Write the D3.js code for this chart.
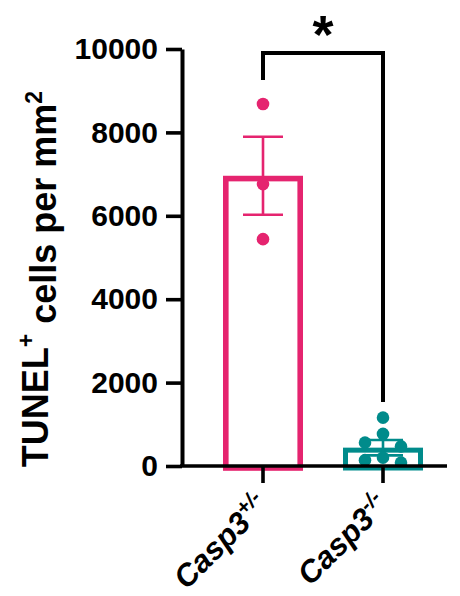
<!DOCTYPE html>
<html><head><meta charset="utf-8">
<script src="https://cdn.jsdelivr.net/npm/d3@7"></script>
<style>
html,body{margin:0;padding:0;background:#fff;}
svg{display:block;}
text{font-family:"Liberation Sans",Arial,sans-serif;font-weight:bold;fill:#000;}
</style></head><body>
<svg id="chart" width="460" height="596"></svg>
<script>
// ---- data ----
const groups = ["Casp3+/-", "Casp3-/-"];
const groupBase = ["Casp3", "Casp3"];
const groupSup = ["+/-", "-/-"];
const groupMeans = [6960, 440];
const groupSem = [935, 185];
const hetPoints = [8680, 6760, 5440];
const koPoints = [1160, 770, 560, 470, 200, 140, 80];
const yTicks = [0, 2000, 4000, 6000, 8000, 10000];
const sigLabel = "*";

const colors = ["#e5246f", "#008b8b"];
const pointSets = [hetPoints, koPoints];

const svg = d3.select("#chart");
const yTop = 49, yBot = 466, axisX = 182;

const y = d3.scaleLinear().domain([0, 10000]).range([yBot, yTop]);
const x = d3.scaleBand().domain(groups).range([203, 443]).padding(0);
const cx = g => x(g) + x.bandwidth() / 2;
const barW = x.bandwidth() * 2 / 3;

// bars (stroke drawn inside)
const strokeW = [5.6, 5];
groups.forEach((g, i) => {
  const sw = strokeW[i];
  svg.append("rect")
    .attr("x", cx(g) - barW / 2 + sw / 2)
    .attr("y", y(groupMeans[i]) + sw / 2)
    .attr("width", barW - sw)
    .attr("height", y(0) - y(groupMeans[i]) - sw / 2 + 2)
    .attr("fill", "none")
    .attr("stroke", colors[i])
    .attr("stroke-width", sw);
});

// error bars
groups.forEach((g, i) => {
  const c = cx(g), hi = y(groupMeans[i] + groupSem[i]), lo = y(groupMeans[i] - groupSem[i]);
  const eg = svg.append("g").attr("stroke", colors[i]).attr("stroke-width", 2.6);
  eg.append("line").attr("x1", c).attr("x2", c).attr("y1", hi).attr("y2", lo);
  eg.append("line").attr("x1", c - 20).attr("x2", c + 20).attr("y1", hi).attr("y2", hi);
  eg.append("line").attr("x1", c - 20).attr("x2", c + 20).attr("y1", lo).attr("y2", lo);
});

// points with simple beeswarm placement
const r = 6.3;
function swarm(vals) {
  const placed = [];
  const step = 18;
  const sorted = vals.map(v => v).sort((a, b) => b - a);
  sorted.forEach(v => {
    const py = y(v);
    for (let k = 0; k < 20; k++) {
      const off = k === 0 ? 0 : (k % 2 ? -1 : 1) * Math.ceil(k / 2) * step;
      if (placed.every(p => Math.hypot(p.dx - off, p.py - py) >= 2 * r + 1)) {
        placed.push({v, py, dx: off});
        break;
      }
    }
  });
  return placed;
}
groups.forEach((g, i) => {
  svg.append("g").selectAll("circle")
    .data(swarm(pointSets[i]))
    .join("circle")
    .attr("cx", d => cx(g) + d.dx)
    .attr("cy", d => y(d.v))
    .attr("r", r)
    .attr("fill", colors[i]);
});

// y axis
const yAxis = svg.append("g").attr("transform", `translate(${axisX},0)`)
  .call(d3.axisLeft(y).tickValues(yTicks).tickSize(16).tickPadding(8).tickSizeOuter(0).tickFormat(d3.format("d")));
yAxis.select(".domain").attr("stroke", "#000").attr("stroke-width", 4);
yAxis.selectAll(".tick line").attr("stroke", "#000").attr("stroke-width", 3.6);
yAxis.selectAll(".tick text").style("font-size", "30px").attr("font-family", null).attr("x", -24);

// x axis
const xAxis = svg.append("g").attr("transform", `translate(0,${yBot})`)
  .call(d3.axisBottom(x).tickSize(17).tickSizeOuter(0).tickFormat(""));
xAxis.select(".domain").remove();
xAxis.append("line").attr("x1", axisX - 2).attr("x2", 447).attr("y1", 0).attr("y2", 0)
  .attr("stroke", "#000").attr("stroke-width", 3.6);
xAxis.selectAll(".tick line").attr("stroke", "#000").attr("stroke-width", 3.6);

// x labels
groups.forEach((g, i) => {
  const t = svg.append("text")
    .attr("transform", `translate(${cx(g) + 7},${yBot + 41}) rotate(-45)`)
    .attr("text-anchor", "end")
    .style("font-size", "31px")
    .style("font-style", "italic");
  t.append("tspan").text(groupBase[i]);
  t.append("tspan").attr("dy", "-0.55em").style("font-size", "21px").text(groupSup[i]);
});

// y title
const yt = svg.append("text")
  .attr("transform", `translate(48,279) rotate(-90)`)
  .attr("text-anchor", "middle")
  .style("font-size", "36px");
yt.append("tspan").text("TUNEL");
yt.append("tspan").attr("dy", "-0.6em").style("font-size", "23px").text("+");
yt.append("tspan").attr("dy", "0.6em").text(" cells per mm");
yt.append("tspan").attr("dy", "-0.6em").style("font-size", "23px").text("2");

// significance bracket
const bx1 = cx(groups[0]), bx2 = cx(groups[1]), by = 53;
svg.append("path")
  .attr("d", `M${bx1},80 V${by} H${bx2} V${y(groupMeans[1] + groupSem[1]) - 38}`)
  .attr("fill", "none").attr("stroke", "#000").attr("stroke-width", 4);
svg.append("text")
  .attr("x", (bx1 + bx2) / 2).attr("y", 53)
  .attr("text-anchor", "middle")
  .style("font-size", "54px")
  .text(sigLabel);
</script>
</body></html>
